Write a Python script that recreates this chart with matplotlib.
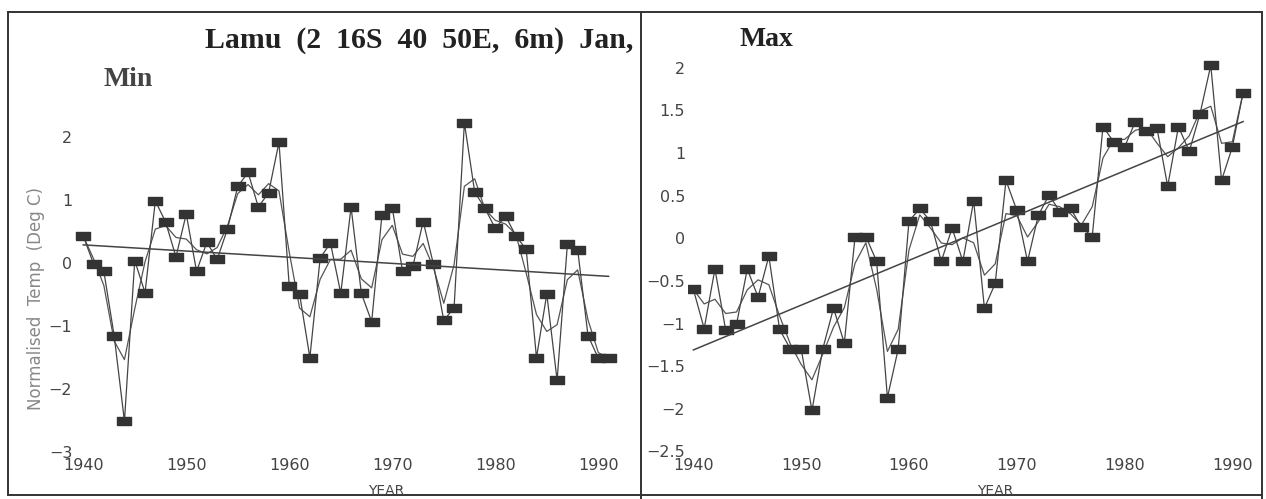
import numpy as np
import matplotlib.pyplot as plt
from matplotlib.lines import Line2D

W, H = 1266, 499

years = list(range(1940, 1992))

# Lamu, January minimum temperature (normalised)
tmin = [0.43, -0.01, -0.13, -1.15, -2.51, 0.04, -0.47, 0.99, 0.65, 0.10,
        0.78, -0.13, 0.33, 0.06, 0.54, 1.22, 1.44, 0.89, 1.12, 1.92,
        -0.37, -0.49, -1.50, 0.08, 0.32, -0.48, 0.89, -0.48, -0.93, 0.77,
        0.88, -0.13, -0.05, 0.66, -0.02, -0.91, -0.71, 2.23, 1.13, 0.87,
        0.55, 0.75, 0.43, 0.22, -1.50, -0.49, -1.86, 0.30, 0.21, -1.15,
        -1.51, -1.51]

# Lamu, January maximum temperature (normalised)
tmax = [-0.60, -1.06, -0.36, -1.08, -1.01, -0.36, -0.69, -0.21, -1.07, -1.30,
        -1.30, -2.02, -1.30, -0.82, -1.23, 0.02, 0.02, -0.27, -1.87, -1.30,
        0.20, 0.35, 0.20, -0.27, 0.12, -0.27, 0.44, -0.82, -0.53, 0.68,
        0.33, -0.27, 0.27, 0.51, 0.31, 0.35, 0.13, 0.02, 1.31, 1.13,
        1.07, 1.37, 1.26, 1.30, 0.61, 1.31, 1.02, 1.46, 2.03, 0.68,
        1.07, 1.71]

# linear trend lines, end points
trend_years = [1940, 1991]
min_trend = [0.29, -0.21]
max_trend = [-1.31, 1.37]

min_yticks = [-3, -2, -1, 0, 1, 2]
max_yticks = [-2.5, -2, -1.5, -1, -0.5, 0, 0.5, 1, 1.5, 2]
xticks = [1940, 1950, 1960, 1970, 1980, 1990]

ink = '#333333'
rect = [(-6, -4), (6, -4), (6, 4), (-6, 4), (-6, -4)]


def smooth(v):
    # 1-2-1 running filter, as used for the thin curve on the original
    v = np.asarray(v, float)
    s = v.copy()
    s[1:-1] = (v[:-2] + 2 * v[1:-1] + v[2:]) / 4
    return s


def px(x0, y0, x1, y1):
    # pixel box (top-left origin) -> figure fraction rect
    return [x0 / W, 1 - y1 / H, (x1 - x0) / W, (y1 - y0) / H]


def panel(ax, vals, trend, yticks, xlim, ylim):
    ax.plot(years, smooth(vals), color='#555555', lw=0.9)
    ax.plot(years, vals, color='#444444', lw=0.9, marker=rect, ms=9.5,
            mfc=ink, mec=ink)
    ax.plot(trend_years, trend, color='#444444', lw=1.1)
    ax.set_xlim(xlim)
    ax.set_ylim(ylim)
    ax.set_xticks(xticks)
    ax.set_yticks(yticks)
    ax.set_yticklabels([('%g' % t).replace('-', '\u2212') for t in yticks])
    for s in ax.spines.values():
        s.set_visible(False)
    ax.tick_params(length=0, labelsize=11.5, labelcolor='#444444', pad=2)
    ax.patch.set_alpha(0)


fig = plt.figure(figsize=(W / 100, H / 100), dpi=100)

ax1 = fig.add_axes(px(75, 99.4, 629.2, 455.2))
panel(ax1, tmin, min_trend, min_yticks, (1939.2, 1993), (-3.05, 2.6))

ax2 = fig.add_axes(px(688, 42.3, 1253.9, 455.6))
panel(ax2, tmax, max_trend, max_yticks, (1939.5, 1992), (-2.55, 2.3))

fig.text(205 / W, 1 - 40 / H, 'Lamu  (2  16S  40  50E,  6m)  Jan,',
         family='Liberation Serif', weight='bold', fontsize=21.5,
         color='#222222', va='center')
fig.text(104 / W, 1 - 79 / H, 'Min', family='Liberation Serif',
         weight='bold', fontsize=20, color='#444444', va='center')
fig.text(740 / W, 1 - 39 / H, 'Max', family='Liberation Serif',
         weight='bold', fontsize=20, color='#222222', va='center')
fig.text(36 / W, 1 - 298 / H, 'Normalised  Temp  (Deg C)', rotation=90,
         fontsize=12, color='#888888', ha='center', va='center')
fig.text(386 / W, 1 - 491 / H, 'YEAR', fontsize=10, color='#444444',
         ha='center', va='center')
fig.text(995 / W, 1 - 491 / H, 'YEAR', fontsize=10, color='#444444',
         ha='center', va='center')

# scanned frame around the two panels
frame = [((8, 12), (8, 494)), ((8, 12), (1262, 12)), ((641, 12), (641, 499)),
         ((1262, 12), (1262, 499)), ((8, 495), (1262, 495))]
for (xa, ya), (xb, yb) in frame:
    fig.add_artist(Line2D([xa / W, xb / W], [1 - ya / H, 1 - yb / H],
                          transform=fig.transFigure, color='#333333', lw=1.4))

fig.savefig('out.png', dpi=100, facecolor='white')
